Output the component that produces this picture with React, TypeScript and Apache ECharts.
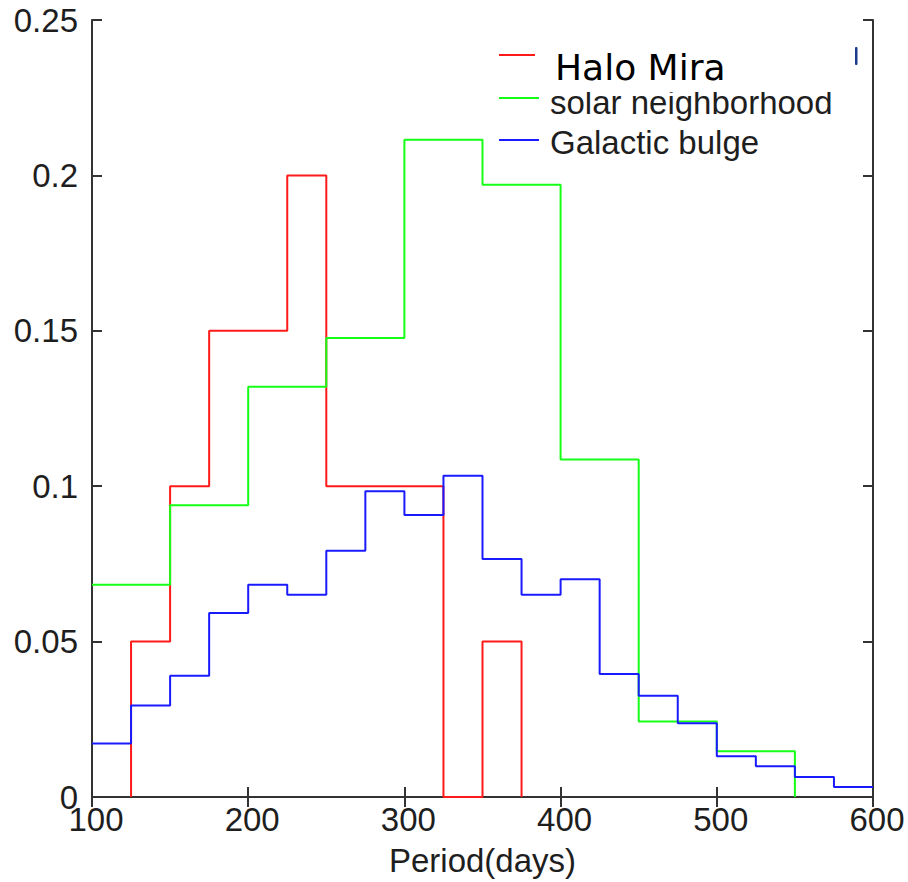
import React, { useEffect, useRef } from "react";
import * as echarts from "echarts";

// Bin edges (days) and normalized frequencies per bin (20 bins of 25 days)
const binEdges = [100, 125, 150, 175, 200, 225, 250, 275, 300, 325, 350, 375, 400, 425, 450, 475, 500, 525, 550, 575, 600];
const haloMira: (number | null)[] = [null, 0.05, 0.1, 0.15, 0.15, 0.2, 0.1, 0.1, 0.1, 0, 0.05, null, null, null, null, null, null, null, null, null];
const solarNeighborhood: (number | null)[] = [0.0683, 0.0683, 0.0939, 0.0939, 0.132, 0.132, 0.1477, 0.1477, 0.2115, 0.2115, 0.197, 0.197, 0.1086, 0.1086, 0.0243, 0.0243, 0.0147, 0.0147, null, null];
const galacticBulge: (number | null)[] = [0.0172, 0.0294, 0.039, 0.0592, 0.0683, 0.0651, 0.0792, 0.0984, 0.0907, 0.1034, 0.0766, 0.0651, 0.0701, 0.0396, 0.0326, 0.0237, 0.0131, 0.0099, 0.0064, 0.0032];

const seriesNames = ["Halo Mira", "solar neighborhood", "Galactic bulge"];
const xTicks = { min: 100, max: 600, interval: 100 };
const yTicks = { min: 0, max: 0.25, interval: 0.05 };

function stepData(values: (number | null)[], startZero: boolean, endZero: boolean) {
  let first = -1;
  let last = -1;
  values.forEach((v, i) => {
    if (v !== null) {
      if (first < 0) first = i;
      last = i;
    }
  });
  const pts: number[][] = [];
  if (startZero) pts.push([binEdges[first], 0]);
  for (let i = first; i <= last; i++) pts.push([binEdges[i], values[i] as number]);
  pts.push([binEdges[last + 1], endZero ? 0 : (values[last] as number)]);
  return pts;
}

export default function App() {
  const ref = useRef<HTMLDivElement>(null);
  useEffect(() => {
    if (!ref.current) return;
    const chart = echarts.init(ref.current, undefined, { renderer: "svg" });
    const axisColor = "#333";
    const labelFont = { fontFamily: "Liberation Sans, Arial, sans-serif", fontSize: 33, color: "#1e1e1e" };
    const lineSeries = (name: string, data: number[][], color: string) => ({
      name,
      type: "line",
      step: "end",
      data,
      showSymbol: false,
      symbol: "none",
      lineStyle: { color, width: 2 },
      itemStyle: { color },
      z: 3,
    });
    chart.setOption({
      animation: false,
      backgroundColor: "#ffffff",
      grid: { left: 92, right: 35, top: 20, bottom: 80, containLabel: false },
      xAxis: [
        {
          type: "value",
          ...xTicks,
          position: "bottom",
          name: "Period(days)",
          nameLocation: "middle",
          nameGap: 47,
          nameTextStyle: { ...labelFont },
          axisLine: { show: true, lineStyle: { color: axisColor, width: 2 } },
          axisTick: { show: true, inside: true, length: 10, lineStyle: { color: axisColor, width: 2 } },
          axisLabel: { ...labelFont, margin: 6, padding: [0, 0, 0, 8] },
          splitLine: { show: false },
        },
        {
          type: "value",
          ...xTicks,
          position: "top",
          axisLine: { show: true, lineStyle: { color: axisColor, width: 2 } },
          axisTick: { show: true, inside: true, length: 10, lineStyle: { color: axisColor, width: 2 } },
          axisLabel: { show: false },
          splitLine: { show: false },
        },
      ],
      yAxis: [
        {
          type: "value",
          ...yTicks,
          position: "left",
          axisLine: { show: true, lineStyle: { color: axisColor, width: 2 } },
          axisTick: { show: true, inside: true, length: 10, lineStyle: { color: axisColor, width: 2 } },
          axisLabel: { ...labelFont, margin: 14 },
          splitLine: { show: false },
        },
        {
          type: "value",
          ...yTicks,
          position: "right",
          axisLine: { show: true, lineStyle: { color: axisColor, width: 2 } },
          axisTick: { show: true, inside: true, length: 10, lineStyle: { color: axisColor, width: 2 } },
          axisLabel: { show: false },
          splitLine: { show: false },
        },
      ],
      series: [
        lineSeries(seriesNames[0], stepData(haloMira, true, true), "#ff1a1a"),
        lineSeries(seriesNames[1], stepData(solarNeighborhood, false, true), "#16ff16"),
        lineSeries(seriesNames[2], stepData(galacticBulge, false, false), "#1a1aff"),
      ],
      graphic: [
        { type: "line", shape: { x1: 499, y1: 55, x2: 535, y2: 55 }, style: { stroke: "#ff1a1a", lineWidth: 2 }, z: 10 },
        { type: "line", shape: { x1: 499, y1: 98, x2: 539, y2: 98 }, style: { stroke: "#16ff16", lineWidth: 2 }, z: 10 },
        { type: "line", shape: { x1: 499, y1: 140, x2: 539, y2: 140 }, style: { stroke: "#1a1aff", lineWidth: 2 }, z: 10 },
        {
          type: "text",
          x: 550,
          y: 102,
          style: { text: seriesNames[1], fontFamily: "Liberation Sans, Arial, sans-serif", fontSize: 33, fill: "#1e1e1e", verticalAlign: "middle", align: "left" },
          z: 10,
        },
        {
          type: "text",
          x: 550,
          y: 142,
          style: { text: seriesNames[2], fontFamily: "Liberation Sans, Arial, sans-serif", fontSize: 33, fill: "#1e1e1e", verticalAlign: "middle", align: "left" },
          z: 10,
        },
        { type: "rect", shape: { x: 548, y: 40, width: 300, height: 52 }, style: { fill: "#ffffff" }, z: 11 },
        {
          type: "text",
          x: 555,
          y: 67,
          style: { text: seriesNames[0], fontFamily: "DejaVu Sans, sans-serif", fontSize: 36, fill: "#000000", verticalAlign: "middle", align: "left" },
          z: 12,
        },
        { type: "rect", shape: { x: 855, y: 47, width: 2.5, height: 18, r: 1 }, style: { fill: "#1a3a8a" }, z: 12 },
      ],
    });
    return () => chart.dispose();
  }, []);
  return <div ref={ref} style={{ position: "fixed", left: 0, top: 0, width: 908, height: 882 }} />;
}
